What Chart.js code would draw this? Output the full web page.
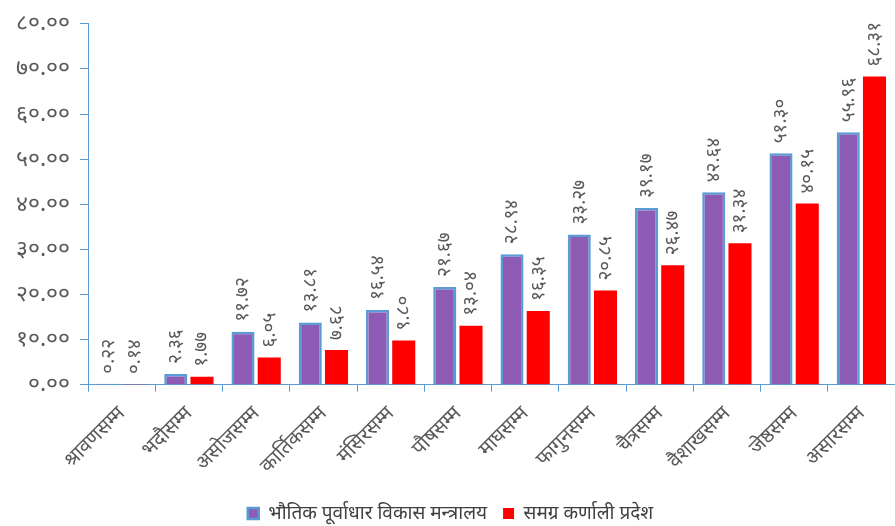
<!DOCTYPE html>
<html>
<head>
<meta charset="utf-8">
<script src="https://cdn.jsdelivr.net/npm/chart.js@4"></script>
<style>
  html, body { margin: 0; padding: 0; background: #fff; }
  #wrap { width: 895px; height: 526px; }
</style>
</head>
<body>
<div id="wrap"><canvas id="myChart"></canvas></div>
<script>
// data set
var months = ["श्रावणसम्म", "भदौसम्म", "असोजसम्म", "कार्तिकसम्म", "मंसिरसम्म", "पौषसम्म",
  "माघसम्म", "फागुनसम्म", "चैत्रसम्म", "वैशाखसम्म", "जेष्ठसम्म", "असारसम्म"];
var ministry = [0.22, 2.36, 11.72, 13.81, 16.54, 21.67, 28.94, 33.27, 39.17, 42.64, 51.30, 55.96];
var province = [0.14, 1.77, 6.05, 7.68, 9.80, 13.04, 16.35, 20.85, 26.47, 31.34, 40.15, 68.31];
var seriesNames = ["भौतिक पूर्वाधार विकास मन्त्रालय", "समग्र कर्णाली प्रदेश"];
var yTicks = [0, 10, 20, 30, 40, 50, 60, 70, 80];

const devDigits = "०१२३४५६७८९";
function toNepali(num) {
  return num.toFixed(2).replace(/[0-9]/g, d => devDigits[+d]);
}

const fontFam = "'Noto Sans', 'DejaVu Sans', sans-serif";
const txtColor = "#595959";
const axisBlue = "#5b9bd5";

// rotated value labels above each bar
const barLabels = {
  id: "barLabels",
  afterDatasetsDraw(chart) {
    const ctx = chart.ctx;
    chart.data.datasets.forEach((ds, i) => {
      chart.getDatasetMeta(i).data.forEach((bar, j) => {
        ctx.save();
        ctx.translate(bar.x, bar.y - 10);
        ctx.rotate(-Math.PI / 2);
        ctx.font = "19px " + fontFam;
        ctx.fillStyle = txtColor;
        ctx.textAlign = "left";
        ctx.textBaseline = "middle";
        ctx.fillText(toNepali(ds.data[j]), 0, 0);
        ctx.restore();
      });
    });
  }
};

new Chart("myChart", {
  type: "bar",
  data: {
    labels: months,
    datasets: [{
      label: seriesNames[0],
      data: ministry,
      backgroundColor: "#8e5bb4",
      borderColor: axisBlue,
      borderWidth: 2.5,
      categoryPercentage: 0.78,
      barPercentage: 0.88
    }, {
      label: seriesNames[1],
      data: province,
      backgroundColor: "#ff0000",
      borderWidth: 0,
      categoryPercentage: 0.78,
      barPercentage: 0.88
    }]
  },
  options: {
    responsive: true,
    maintainAspectRatio: false,
    animation: false,
    layout: { padding: { top: 16, right: 0, left: 6, bottom: -7 } },
    plugins: {
      legend: {
        position: "bottom",
        labels: {
          boxWidth: 11,
          boxHeight: 11,
          padding: 16,
          color: "#404040",
          font: { size: 19, family: fontFam }
        }
      },
      tooltip: { enabled: false }
    },
    scales: {
      x: {
        grid: {
          display: true,
          drawOnChartArea: false,
          offset: true,
          color: axisBlue,
          tickLength: 7
        },
        border: { color: axisBlue, width: 1 },
        ticks: {
          color: txtColor,
          maxRotation: 45,
          minRotation: 45,
          padding: 10,
          font: { size: 20, family: fontFam }
        }
      },
      y: {
        min: 0,
        max: 80,
        afterBuildTicks: axis => { axis.ticks = yTicks.map(v => ({ value: v })); },
        grid: {
          display: true,
          drawOnChartArea: false,
          color: axisBlue,
          tickLength: 8
        },
        border: { color: axisBlue, width: 1 },
        ticks: {
          color: txtColor,
          padding: 10,
          font: { size: 23, family: fontFam },
          callback: v => toNepali(v)
        }
      }
    }
  },
  plugins: [barLabels]
});
</script>
</body>
</html>
